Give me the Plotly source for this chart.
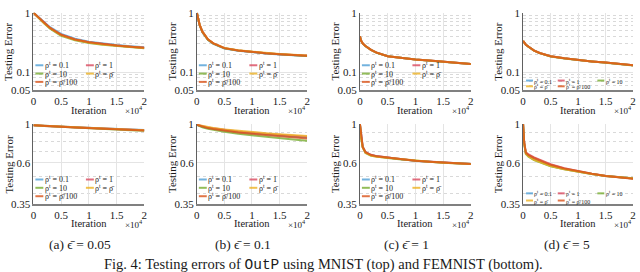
import math
import plotly.graph_objects as go

# ---------------- data (x in units of 10^4 iterations) ----------------
ITER = [0, 0.02, 0.05, 0.1, 0.2, 0.3, 0.5, 0.75, 1, 1.25, 1.5, 1.75, 2]

X_TICKS = [0, 0.5, 1, 1.5, 2]
X_TICK_TEXT = ["0", "0.5", "1", "1.5", "2"]
TOP_Y_TICKS = [0.05, 0.1, 1]
TOP_Y_TEXT = ["0.05", "0.1", "1"]
TOP_Y_MINOR = [0.06, 0.07, 0.08, 0.09, 0.2, 0.3, 0.4, 0.5, 0.6, 0.7, 0.8, 0.9]
BOT_Y_TICKS = [0.35, 0.6, 1]
BOT_Y_TEXT = ["0.35", "0.6", "1"]
BOT_Y_MINOR = [0.4, 0.5, 0.7, 0.8, 0.9]

SERIES = ["ρ<sup>t</sup> = 0.1", "ρ<sup>t</sup> = 1", "ρ<sup>t</sup> = 10",
          "ρ<sup>t</sup> = ρ̄", "ρ<sup>t</sup> = ρ̄/100"]
COLORS = ["#4f9fd6", "#d9485e", "#77ac30", "#edb120", "#d95319"]
CAPTIONS = ["(a) ϵ̄ = 0.05", "(b) ϵ̄ = 0.1", "(c) ϵ̄ = 1", "(d) ϵ̄ = 5"]
FIG_CAPTION = ("Fig. 4: Testing errors of <span style='font-family:Liberation Mono'>OutP</span>"
               " using MNIST (top) and FEMNIST (bottom).")

# MNIST (top row), series order: 0.1, 1, 10, rho_bar, rho_bar/100
MNIST_A = [
    [1.00, 0.965, 0.91, 0.83, 0.68, 0.57, 0.44, 0.365, 0.325, 0.302, 0.287, 0.274, 0.262],
    [1.00, 0.96, 0.90, 0.82, 0.665, 0.555, 0.425, 0.355, 0.318, 0.296, 0.281, 0.269, 0.258],
    [1.00, 0.955, 0.895, 0.81, 0.65, 0.54, 0.41, 0.345, 0.31, 0.289, 0.275, 0.263, 0.252],
    [1.00, 0.958, 0.90, 0.815, 0.66, 0.55, 0.42, 0.35, 0.315, 0.293, 0.279, 0.266, 0.255],
    [1.00, 0.96, 0.90, 0.82, 0.665, 0.555, 0.425, 0.355, 0.318, 0.296, 0.28, 0.268, 0.257],
]
MNIST_B = [
    [1.00, 0.84, 0.62, 0.47, 0.35, 0.30, 0.25, 0.229, 0.216, 0.207, 0.199, 0.193, 0.187],
    [1.00, 0.85, 0.63, 0.48, 0.355, 0.305, 0.254, 0.232, 0.219, 0.209, 0.201, 0.195, 0.189],
    [1.00, 0.84, 0.62, 0.475, 0.352, 0.302, 0.252, 0.231, 0.218, 0.208, 0.200, 0.194, 0.188],
    [1.00, 0.85, 0.63, 0.48, 0.356, 0.306, 0.255, 0.233, 0.22, 0.21, 0.202, 0.196, 0.19],
    [1.00, 0.845, 0.625, 0.48, 0.356, 0.305, 0.254, 0.232, 0.219, 0.209, 0.201, 0.195, 0.189],
]
MNIST_C = [
    [0.40, 0.34, 0.305, 0.275, 0.237, 0.213, 0.186, 0.173, 0.164, 0.157, 0.150, 0.144, 0.138],
    [0.40, 0.341, 0.306, 0.276, 0.238, 0.214, 0.186, 0.173, 0.164, 0.157, 0.150, 0.144, 0.138],
    [0.40, 0.339, 0.304, 0.274, 0.236, 0.212, 0.185, 0.172, 0.163, 0.156, 0.149, 0.143, 0.137],
    [0.40, 0.34, 0.305, 0.275, 0.237, 0.213, 0.186, 0.173, 0.164, 0.157, 0.150, 0.144, 0.138],
    [0.40, 0.34, 0.305, 0.275, 0.237, 0.213, 0.186, 0.173, 0.164, 0.157, 0.150, 0.144, 0.138],
]
MNIST_D = [
    [0.335, 0.31, 0.29, 0.268, 0.231, 0.21, 0.185, 0.171, 0.16, 0.152, 0.145, 0.138, 0.131],
    [0.335, 0.311, 0.291, 0.269, 0.232, 0.211, 0.185, 0.171, 0.16, 0.152, 0.145, 0.138, 0.131],
    [0.335, 0.309, 0.289, 0.267, 0.23, 0.209, 0.184, 0.17, 0.159, 0.151, 0.144, 0.137, 0.130],
    [0.335, 0.31, 0.29, 0.268, 0.231, 0.21, 0.185, 0.171, 0.16, 0.152, 0.145, 0.138, 0.131],
    [0.335, 0.31, 0.29, 0.268, 0.231, 0.21, 0.185, 0.171, 0.16, 0.152, 0.145, 0.138, 0.131],
]
# FEMNIST (bottom row)
FEMNIST_A = [
    [0.985, 0.984, 0.983, 0.981, 0.978, 0.975, 0.968, 0.96, 0.952, 0.945, 0.938, 0.931, 0.924],
    [0.985, 0.983, 0.982, 0.98, 0.976, 0.973, 0.966, 0.958, 0.95, 0.942, 0.935, 0.928, 0.921],
    [0.985, 0.983, 0.981, 0.979, 0.975, 0.971, 0.963, 0.954, 0.945, 0.937, 0.929, 0.922, 0.915],
    [0.985, 0.984, 0.982, 0.98, 0.977, 0.974, 0.967, 0.959, 0.951, 0.944, 0.937, 0.93, 0.923],
    [0.985, 0.984, 0.982, 0.98, 0.977, 0.973, 0.966, 0.957, 0.949, 0.941, 0.934, 0.927, 0.92],
]
FEMNIST_B = [
    [0.99, 0.985, 0.975, 0.965, 0.95, 0.94, 0.92, 0.90, 0.885, 0.87, 0.858, 0.847, 0.837],
    [0.99, 0.986, 0.977, 0.968, 0.955, 0.945, 0.926, 0.907, 0.892, 0.878, 0.866, 0.855, 0.845],
    [0.99, 0.982, 0.97, 0.958, 0.94, 0.927, 0.903, 0.88, 0.862, 0.845, 0.83, 0.816, 0.803],
    [0.99, 0.987, 0.979, 0.971, 0.959, 0.95, 0.932, 0.914, 0.90, 0.887, 0.875, 0.864, 0.855],
    [0.99, 0.985, 0.975, 0.964, 0.948, 0.937, 0.917, 0.896, 0.88, 0.865, 0.852, 0.84, 0.828],
]
FEMNIST_C = [
    [1.00, 0.85, 0.74, 0.69, 0.665, 0.655, 0.643, 0.63, 0.618, 0.61, 0.603, 0.597, 0.592],
    [1.00, 0.85, 0.742, 0.692, 0.667, 0.656, 0.643, 0.63, 0.618, 0.61, 0.603, 0.597, 0.592],
    [1.00, 0.84, 0.735, 0.683, 0.658, 0.65, 0.64, 0.628, 0.617, 0.609, 0.602, 0.596, 0.591],
    [1.00, 0.845, 0.737, 0.685, 0.66, 0.651, 0.641, 0.629, 0.617, 0.609, 0.602, 0.596, 0.591],
    [1.00, 0.85, 0.74, 0.69, 0.665, 0.655, 0.643, 0.63, 0.618, 0.61, 0.603, 0.597, 0.592],
]
FEMNIST_D = [
    [1.00, 0.78, 0.68, 0.655, 0.628, 0.61, 0.578, 0.553, 0.534, 0.519, 0.505, 0.496, 0.488],
    [1.00, 0.79, 0.69, 0.67, 0.645, 0.627, 0.59, 0.56, 0.538, 0.521, 0.506, 0.497, 0.489],
    [1.00, 0.77, 0.675, 0.65, 0.622, 0.604, 0.574, 0.551, 0.533, 0.519, 0.505, 0.497, 0.49],
    [1.00, 0.775, 0.678, 0.652, 0.625, 0.607, 0.576, 0.552, 0.534, 0.519, 0.505, 0.496, 0.488],
    [1.00, 0.785, 0.685, 0.665, 0.64, 0.62, 0.585, 0.557, 0.536, 0.52, 0.505, 0.496, 0.487],
]

PANELS = [MNIST_A, MNIST_B, MNIST_C, MNIST_D, FEMNIST_A, FEMNIST_B, FEMNIST_C, FEMNIST_D]

# ---------------- layout geometry (pixels) ----------------
W, H = 640, 272
COL_PX = [(30.7, 142.7), (195.7, 307.0), (360.3, 472.3), (525.0, 636.0)]
ROW_PX = [(7.0, 88.0), (123.5, 207.0)]
SERIF = "Liberation Serif"
TXT = "#1a1a1a"


def px(x):
    return x / W


def py(y):
    return 1 - y / H


def rgba(hexc, a):
    h = hexc.lstrip("#")
    return "rgba(%d,%d,%d,%.2f)" % (int(h[0:2], 16), int(h[2:4], 16), int(h[4:6], 16), a)


fig = go.Figure()
layout = dict(
    width=W, height=H, margin=dict(l=0, r=0, t=0, b=0),
    paper_bgcolor="white", plot_bgcolor="white", showlegend=False,
    font=dict(family=SERIF, color=TXT),
)
annotations = []
shapes = []

for k, data in enumerate(PANELS):
    r, c = divmod(k, 4)
    idx = k + 1
    sfx = "" if idx == 1 else str(idx)
    x0, x1 = COL_PX[c]
    y0, y1 = ROW_PX[r]
    top = r == 0
    yt = TOP_Y_TICKS if top else BOT_Y_TICKS
    ytt = TOP_Y_TEXT if top else BOT_Y_TEXT
    ymin = TOP_Y_MINOR if top else BOT_Y_MINOR
    ylo = 0.05 if top else 0.35

    for s, vals in enumerate(data):
        fig.add_trace(go.Scatter(
            x=ITER, y=vals, mode="lines", name=SERIES[s],
            line=dict(color=rgba(COLORS[s], 0.8), width=2),
            xaxis="x" + sfx, yaxis="y" + sfx, showlegend=False,
        ))

    layout["xaxis" + sfx] = dict(
        domain=[px(x0), px(x1)], anchor="y" + sfx, range=[0, 2],
        tickvals=X_TICKS, ticktext=X_TICK_TEXT, ticks="",
        tickfont=dict(family=SERIF, size=11, color=TXT),
        showgrid=True, gridcolor="#e4e4e4", gridwidth=1, zeroline=False,
        showline=True, linecolor="#808080", linewidth=1.5,
    )
    layout["yaxis" + sfx] = dict(
        domain=[py(y1), py(y0)], anchor="x" + sfx, type="log",
        range=[math.log10(ylo), 0],
        tickvals=yt, ticktext=ytt, ticks="",
        tickfont=dict(family=SERIF, size=11, color=TXT),
        showgrid=True, gridcolor="#e4e4e4", gridwidth=1, zeroline=False,
        showline=True, linecolor="#606060", linewidth=1,
        minor=dict(tickvals=ymin, showgrid=True, gridcolor="#d9d9d9",
                   griddash="dot", gridwidth=1, ticks=""),
    )

    annotations.append(dict(
        x=px(x0 - 25), y=py((y0 + y1) / 2), xref="paper", yref="paper",
        text="Testing Error", textangle=-90, showarrow=False,
        font=dict(family=SERIF, size=11, color=TXT), xanchor="center", yanchor="middle"))
    annotations.append(dict(
        x=px((x0 + x1) / 2), y=py(y1 + 21), xref="paper", yref="paper",
        text="Iteration", showarrow=False, borderpad=0,
        font=dict(family=SERIF, size=10.5, color=TXT), xanchor="center", yanchor="middle"))
    annotations.append(dict(
        x=px(x1), y=py(y1 + 21), xref="paper", yref="paper",
        text="×10<sup>4</sup>", showarrow=False, borderpad=0,
        font=dict(family=SERIF, size=9, color=TXT), xanchor="right", yanchor="middle"))

    if c < 3:
        rows_off = [26, 17.3, 8.6] if top else [25.5, 16.8, 8.0]
        pos = {0: (0, 0), 2: (0, 1), 4: (0, 2), 1: (1, 0), 3: (1, 1)}
        col_off = [2, 53]
        seg, fs = 8, 8
    else:
        rows_off = [10, 4] if top else [11, 3.5]
        pos = {0: (0, 0), 1: (1, 0), 2: (2, 0), 3: (0, 1), 4: (1, 1)}
        col_off = [3, 35, 75]
        seg, fs = 7, 6
    for s in range(5):
        cc, rr = pos[s]
        lx = x0 + col_off[cc]
        ly = y1 - rows_off[rr]
        shapes.append(dict(type="line", xref="paper", yref="paper",
                           x0=px(lx), x1=px(lx + seg), y0=py(ly), y1=py(ly),
                           line=dict(color=rgba(COLORS[s], 0.8), width=2)))
        annotations.append(dict(
            x=px(lx + seg + 0.5), y=py(ly), xref="paper", yref="paper",
            text=SERIES[s], showarrow=False, xanchor="left", yanchor="middle",
            font=dict(family=SERIF, size=fs, color=TXT), borderpad=0))

cap_shift = [9, 9, 9, 11.5]
for c in range(4):
    x0, x1 = COL_PX[c]
    annotations.append(dict(
        x=px((x0 + x1) / 2 - cap_shift[c]), y=py(250), xref="paper", yref="paper",
        text=CAPTIONS[c], showarrow=False, xanchor="center", yanchor="middle",
        font=dict(family=SERIF, size=13.5, color=TXT)))

annotations.append(dict(
    x=px(324), y=py(270.5), xref="paper", yref="paper", text=FIG_CAPTION,
    showarrow=False, xanchor="center", yanchor="middle",
    font=dict(family=SERIF, size=14.5, color=TXT)))

layout["annotations"] = annotations
layout["shapes"] = shapes
fig.update_layout(**layout)
fig.write_html("out.html", config={"displayModeBar": False},
               post_script="document.body.style.margin='0';document.body.style.padding='0';")
